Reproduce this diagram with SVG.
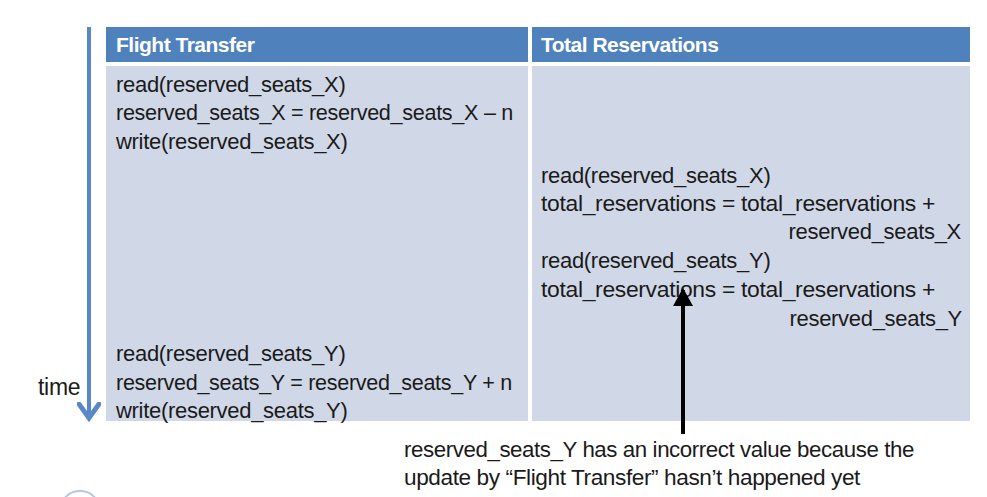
<svg xmlns="http://www.w3.org/2000/svg" width="987" height="497" viewBox="0 0 987 497">
  <style>
    .hdr { fill: #4f81bd; }
    .cell { fill: #d0d8e8; }
    .htxt { font-family: "Liberation Sans", Arial, sans-serif; font-size: 21px; font-weight: bold; fill: #ffffff; letter-spacing: -0.5px; }
    .txt { font-family: "Liberation Sans", Arial, sans-serif; font-size: 22px; fill: #1a1a1a; letter-spacing: -0.3px; }
    .note { font-family: "Liberation Sans", Arial, sans-serif; font-size: 22px; fill: #1a1a1a; letter-spacing: -0.4px; }
  </style>
  <defs>
    <marker id="blueHead" markerWidth="6" markerHeight="6" refX="4" refY="3" orient="auto" markerUnits="strokeWidth">
      <path d="M0.5,0.5 L4,3 L0.5,5.5" fill="none" stroke="#5a88c6" stroke-width="1.2" stroke-linecap="round"/>
    </marker>
    <marker id="blackHead" markerWidth="5" markerHeight="5" refX="4" refY="2.5" orient="auto" markerUnits="strokeWidth">
      <path d="M0,0 L4.5,2.5 L0,5 Z" fill="#000000"/>
    </marker>
  </defs>

  <rect width="987" height="497" fill="#ffffff"/>

  <!-- table: Flight Transfer column -->
  <g id="flight-transfer">
    <rect class="hdr" x="106" y="27" width="422" height="35"/>
    <text class="htxt" x="116" y="52">Flight Transfer</text>
    <rect class="cell" x="106" y="66" width="422" height="355"/>
    <text class="txt" x="116" y="92">read(reserved_seats_X)</text>
    <text class="txt" x="116" y="120" textLength="397" lengthAdjust="spacingAndGlyphs">reserved_seats_X = reserved_seats_X – n</text>
    <text class="txt" x="116" y="149">write(reserved_seats_X)</text>
    <text class="txt" x="116" y="361">read(reserved_seats_Y)</text>
    <text class="txt" x="116" y="390" textLength="396" lengthAdjust="spacingAndGlyphs">reserved_seats_Y = reserved_seats_Y + n</text>
    <text class="txt" x="116" y="418">write(reserved_seats_Y)</text>
  </g>

  <!-- table: Total Reservations column -->
  <g id="total-reservations">
    <rect class="hdr" x="532" y="27" width="438" height="35"/>
    <text class="htxt" x="541" y="52">Total Reservations</text>
    <rect class="cell" x="532" y="66" width="438" height="355"/>
    <text class="txt" x="541" y="183">read(reserved_seats_X)</text>
    <text class="txt" x="541" y="211" textLength="394" lengthAdjust="spacingAndGlyphs">total_reservations = total_reservations +</text>
    <text class="txt" x="961" y="239" text-anchor="end">reserved_seats_X</text>
    <text class="txt" x="541" y="268">read(reserved_seats_Y)</text>
    <text class="txt" x="541" y="297" textLength="394" lengthAdjust="spacingAndGlyphs">total_reservations = total_reservations +</text>
    <text class="txt" x="962" y="326" text-anchor="end">reserved_seats_Y</text>
  </g>

  <!-- time axis -->
  <g id="time-axis">
    <text class="txt" x="38" y="395" style="font-size:23px">time</text>
  </g>

  <!-- annotation -->
  <g id="annotation">
    <text class="note" x="404" y="457" textLength="510" lengthAdjust="spacingAndGlyphs">reserved_seats_Y has an incorrect value because the</text>
    <text class="note" x="404" y="485" textLength="456" lengthAdjust="spacingAndGlyphs">update by “Flight Transfer” hasn’t happened yet</text>
  </g>

  <!-- connectors -->
  <g id="connectors">
    <line x1="89" y1="27" x2="89" y2="418" stroke="#5a88c6" stroke-width="4" marker-end="url(#blueHead)"/>
    <line x1="683" y1="434" x2="683" y2="290" stroke="#000000" stroke-width="4" marker-end="url(#blackHead)"/>
  </g>

  <!-- partial roundel at the lower edge -->
  <ellipse cx="80" cy="506" rx="18" ry="15" fill="none" stroke="#b8c6e6" stroke-width="2"/>
</svg>
